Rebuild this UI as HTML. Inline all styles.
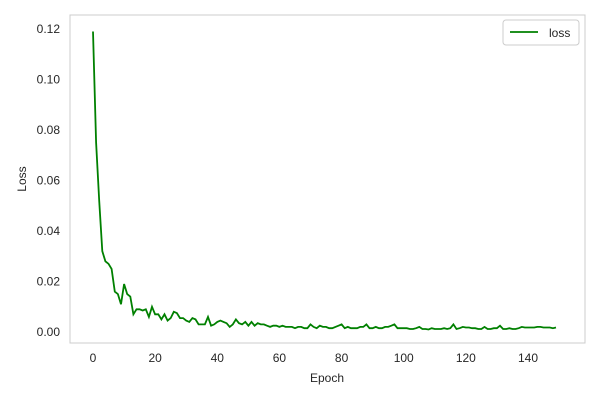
<!DOCTYPE html>
<html><head><meta charset="utf-8"><style>
body{margin:0;background:#fff;font-family:"Liberation Sans",sans-serif}
svg text{font-family:"Liberation Sans",sans-serif;fill:#262626}
</style></head><body>
<svg width="600" height="400">
<rect x="70" y="15" width="515" height="328" fill="#fff" stroke="#ccc"/>
<g id="ticks"></g>
<path id="line" fill="none" stroke="#008000" stroke-width="1.8"/>
<text x="327" y="382" font-size="12" text-anchor="middle">Epoch</text>
<text x="26" y="179" font-size="12" text-anchor="middle" transform="rotate(-90 26 179)">Loss</text>
<g>
<rect x="503" y="20" width="76" height="25" rx="3" fill="#fff" stroke="#ccc"/>
<line x1="510" y1="32" x2="538" y2="32" stroke="#008000" stroke-width="1.8"/>
<text x="549" y="37" font-size="12">loss</text>
</g>
</svg>
<script>
const xTicks=[0,20,40,60,80,100,120,140];
const yTicks=[0,0.02,0.04,0.06,0.08,0.10,0.12];
const yLabels=["0.00","0.02","0.04","0.06","0.08","0.10","0.12"];
const loss=[0.119,0.075,0.052,0.032,0.028,0.027,0.025,0.016,0.015,0.011,0.019,0.015,0.014,0.007,0.009,0.009,0.0085,0.009,0.006,0.010,
0.007,0.007,0.005,0.007,0.0045,0.0055,0.008,0.0075,0.0055,0.0055,0.0045,0.004,0.0055,0.005,0.003,0.003,0.003,0.006,0.0025,0.003,
0.004,0.0045,0.004,0.0035,0.002,0.003,0.005,0.0035,0.003,0.004,0.0025,0.004,0.0025,0.0035,0.003,0.003,0.0025,0.002,0.0025,0.0025,
0.002,0.0025,0.002,0.002,0.002,0.0015,0.002,0.002,0.0015,0.0015,0.003,0.002,0.0015,0.0025,0.002,0.002,0.0015,0.0015,0.002,0.0025,
0.003,0.0015,0.002,0.0015,0.0015,0.0015,0.002,0.002,0.003,0.0015,0.0015,0.002,0.0015,0.0015,0.002,0.002,0.0025,0.003,0.0015,0.0015,
0.0015,0.0015,0.0012,0.0012,0.0015,0.002,0.0012,0.0012,0.001,0.0015,0.0012,0.0012,0.0012,0.0015,0.0012,0.0015,0.003,0.0012,0.0015,0.002,
0.0018,0.0018,0.0015,0.0015,0.0012,0.0012,0.002,0.0012,0.0012,0.0015,0.0015,0.0025,0.0012,0.0012,0.0015,0.0012,0.0012,0.0015,0.002,0.0018,
0.0018,0.0018,0.0018,0.002,0.002,0.0018,0.0018,0.0018,0.0015,0.0018,0.0015,0.0018,0.0015,0.0015,0.0018,0.0015,0.0012,0.0015];
const xs=v=>93+v*(435/140);
const ys=v=>332-v*2525;
const ns="http://www.w3.org/2000/svg";
const g=document.getElementById('ticks');
xTicks.forEach(t=>{const e=document.createElementNS(ns,'text');e.setAttribute('x',xs(t));e.setAttribute('y',362);e.setAttribute('font-size','12');e.setAttribute('text-anchor','middle');e.textContent=t;


g.appendChild(e);});
yTicks.forEach((t,i)=>{const e=document.createElementNS(ns,'text');e.setAttribute('x',60);e.setAttribute('y',ys(t)+4);e.setAttribute('font-size','12');e.setAttribute('text-anchor','end');e.textContent=yLabels[i];


g.appendChild(e);});
const pts=loss.slice(0,150).map((v,i)=>(i?'L':'M')+xs(i).toFixed(1)+' '+ys(v).toFixed(1)).join(' ');
document.getElementById('line').setAttribute('d',pts);
</script>
</body></html>
